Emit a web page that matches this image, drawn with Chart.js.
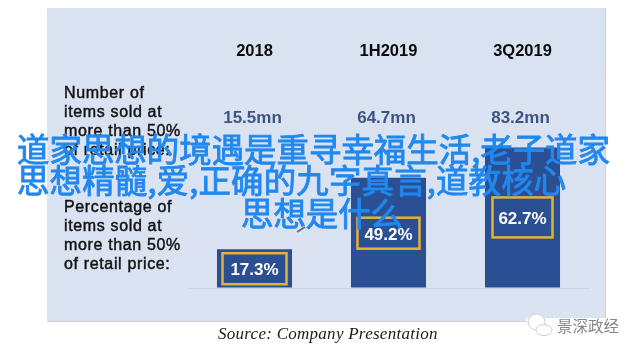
<!DOCTYPE html>
<html>
<head>
<meta charset="utf-8">
<script src="https://cdn.jsdelivr.net/npm/chart.js@4"></script>
<style>
html, body { margin: 0; padding: 0; background: #fff; }
#wrap { position: relative; width: 640px; height: 354px; overflow: hidden; }
#panel { position: absolute; left: 47px; top: 8px; width: 558px; height: 313px;
  background: linear-gradient(#d9e2f0, #dbe3f3); border-right: 1px solid #c9d1de; border-bottom: 1px solid #ccd3e0; }
#chart { position: absolute; left: 0; top: 0; }
.note { position: absolute; left: 64px; font: 16px/19.1px "Liberation Sans"; letter-spacing: .65px; -webkit-text-stroke: .45px #111; color: #111; white-space: pre; }
.spam { position: absolute; font: 32.4px/36px "Noto Sans CJK SC"; -webkit-text-stroke: .9px #2188ee; color: #2188ee; white-space: pre; }
#source { position: absolute; left: 218px; top: 324px; font: italic 17px/20px "Liberation Serif"; letter-spacing: .27px; color: #1a1a1a; white-space: pre; }
#mark { position: absolute; left: 557px; top: 315px; font: 15.5px/20px "Noto Sans CJK SC"; color: #85878a; white-space: pre; }
svg { position: absolute; left: 0; top: 0; }
</style>
</head>
<body>
<div id="wrap">
  <div id="panel"></div>
  <canvas id="chart" width="640" height="354"></canvas>
  <svg width="640" height="354">
    <rect x="526" y="318" width="98" height="20" fill="#fff" opacity=".9"/>
    <g fill="#fff" stroke="#c2c4c6" stroke-width=".8">
      <ellipse cx="536.5" cy="322" rx="8.5" ry="8"/>
      <ellipse cx="544" cy="330" rx="8" ry="5.5"/>
    </g>
    <line x1="297" y1="232" x2="305" y2="227" stroke="#5b6f8e" stroke-width="2"/>
  </svg>
  <div class="note" style="top:83px">Number of
items sold at
more than 50%
of retail price:</div>
  <div class="note" style="top:197px">Percentage of
items sold at
more than 50%
of retail price:</div>
  <div id="source">Source: Company Presentation</div>
  <div id="mark">景深政经</div>
  <div class="spam" style="left:17px;top:130px;letter-spacing:.05px">道家思想的境遇是重寻幸福生活,老子道家</div>
  <div class="spam" style="left:17px;top:161px;letter-spacing:.22px">思想精髓,爱,正确的九字真言,道教核心</div>
  <div class="spam" style="left:241px;top:194px">思想是什么</div>
</div>
<script>
const categories = ['2018', '1H2019', '3Q2019'];
const itemsSold = [15.5, 64.7, 83.2];
const percentSold = [17.3, 49.2, 62.7];

// yellow boxes sit at different depths inside each bar
const boxTopOffset = [4, 40, 50];
const boxHeight = [31, 31, 40];
const boxWidth = [64, 62, 60];

const labelsPlugin = {
    id: 'barLabels',
    afterDatasetsDraw(chart) {
        const ctx = chart.ctx;
        const bars = chart.getDatasetMeta(0).data;
        ctx.save();
        ctx.textAlign = 'center';
        ctx.textBaseline = 'middle';
        bars.forEach((bar, i) => {
            // row of item counts above the bars
            ctx.fillStyle = '#3d5482';
            ctx.font = 'bold 17px "Liberation Sans"';
            ctx.fillText(itemsSold[i] + 'mn', bar.x - 2, 118);

            const top = bar.y + boxTopOffset[i];
            ctx.strokeStyle = '#e2b338';
            ctx.lineWidth = 2.5;
            ctx.strokeRect(bar.x - boxWidth[i] / 2, top, boxWidth[i], boxHeight[i]);
            ctx.fillStyle = '#fff';
            ctx.font = 'bold 17px "Liberation Sans"';
            ctx.fillText(percentSold[i] + '%', bar.x, top + boxHeight[i] / 2 + 2);
        });
        ctx.restore();
    }
};

new Chart(document.getElementById('chart').getContext('2d'), {
    type: 'bar',
    data: {
        labels: categories,
        datasets: [{
            data: percentSold,
            backgroundColor: '#2b4f93',
            barPercentage: 0.56,
            categoryPercentage: 1
        }]
    },
    options: {
        responsive: false,
        animation: false,
        layout: { padding: { left: 187.5, right: 50.5, top: 40, bottom: 66 } },
        plugins: { legend: { display: false }, tooltip: { enabled: false } },
        scales: {
            x: {
                position: 'top',
                grid: { display: false, drawTicks: false },
                border: { display: false },
                ticks: { color: '#0a0a0a', font: { family: 'Liberation Sans', weight: 'bold', size: 16.5 }, padding: 2, maxRotation: 0 }
            },
            y: {
                min: 0,
                max: 100,
                ticks: { display: false },
                border: { display: false },
                grid: { drawTicks: false, color: c => c.tick.value === 0 ? '#cdd5e4' : 'transparent' }
            }
        }
    },
    plugins: [labelsPlugin]
});
</script>
</body>
</html>
